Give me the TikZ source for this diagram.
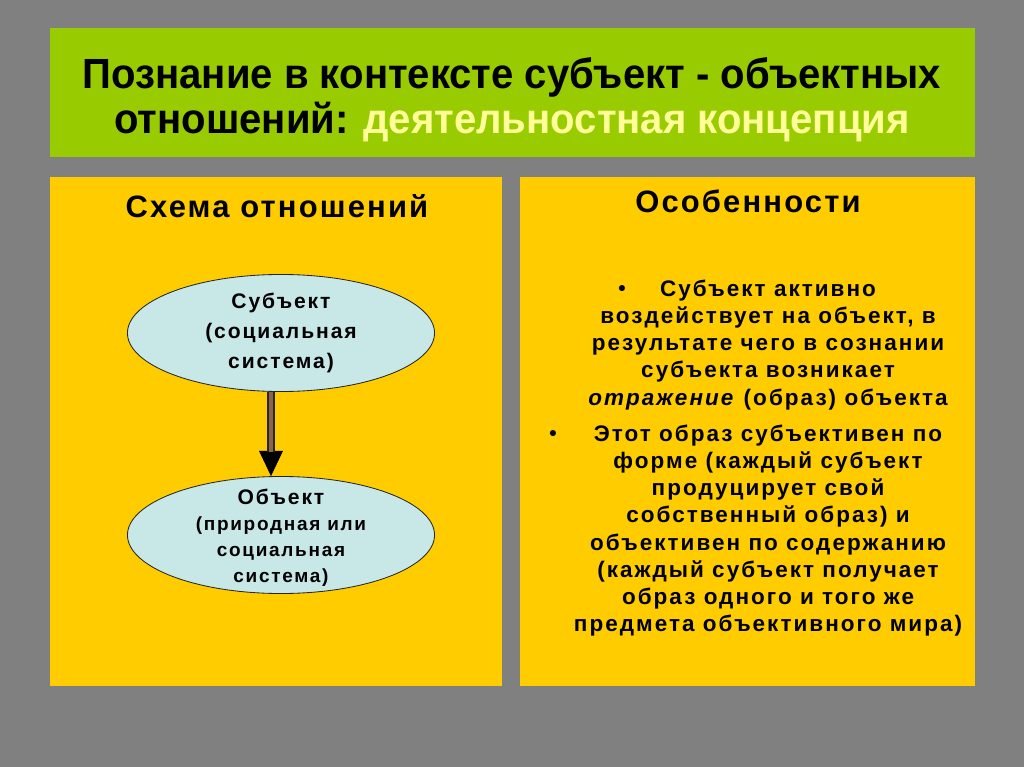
\documentclass[tikz,border=0pt]{standalone}
\usepackage{fontspec}
\setmainfont{Liberation Sans}
\newfontfamily\headfont[LetterSpace=7]{Liberation Sans}
\newfontfamily\bodyfont[LetterSpace=9]{Liberation Sans}
\usetikzlibrary{shapes.geometric,arrows.meta,positioning}

\definecolor{slidegray}{RGB}{128,128,128}
\definecolor{bannergreen}{RGB}{153,204,0}
\definecolor{panelyellow}{RGB}{255,204,0}
\definecolor{paleyellow}{RGB}{255,255,153}
\definecolor{ovalblue}{RGB}{200,232,232}
\definecolor{shaftbrown}{RGB}{140,100,70}

\begin{document}
\begin{tikzpicture}[x=0.025cm, y=-0.025cm,
  panel/.style={fill=panelyellow},
  titleline/.style={font=\bfseries\fontsize{30}{32}\selectfont},
  heading/.style={font=\headfont\bfseries\fontsize{22}{24}\selectfont},
  oval/.style={ellipse, draw=black!85, fill=ovalblue, line width=0.6pt, minimum width=7.675cm, minimum height=2.925cm},
  ovaltext/.style={font=\bodyfont\bfseries\fontsize{15}{21.3}\selectfont, align=center},
  bullettext/.style={font=\bodyfont\bfseries\fontsize{16}{19.3}\selectfont, align=center, anchor=north},
  dot/.style={font=\bfseries\fontsize{15}{19}\selectfont, anchor=base}]

% background and panels
\fill[slidegray] (0,0) rectangle (1024,767);
\fill[bannergreen] (50,28) rectangle (975,157);
\fill[panel] (50,177) rectangle (502,686);
\fill[panel] (520,177) rectangle (975,686);

% title
\node[titleline] (title1) at (512,77) {\scalebox{0.95}[1]{Познание в контексте субъект - объектных}};
\node[titleline] (title2) at (512,122) {\scalebox{0.95}[1]{отношений: \textcolor{paleyellow}{деятельностная концепция}}};

% left panel
\node[heading] (schema) at (277,206) {Схема отношений};
\node[oval] (subj) at (281,333) {};
\node[ovaltext] (subjtext) at (subj.center) {Субъект\\(социальная\\система)};
\node[oval] (obj) at (281,535) {};
\node[ovaltext, font=\bodyfont\bfseries\fontsize{13.5}{18.4}\selectfont] (objtext) at ([yshift=-0.07cm]obj.center) {{\fontsize{15}{18.4}\selectfont Объект}\\(природная или\\социальная\\система)};
\draw[-{Triangle[length=18pt,width=17pt]}, line width=0.5pt] ([xshift=-0.25cm]subj.south) -- ([xshift=-0.25cm]obj.north);
\draw[draw=black!85, double=shaftbrown, double distance=3pt, line width=1.4pt, shorten >=17pt] ([xshift=-0.25cm]subj.south) -- ([xshift=-0.25cm]obj.north);

% right panel
\node[heading] (features) at (748,201) {Особенности};
\node[bullettext] (item1) at (768,275) {Субъект активно\\воздействует на объект, в\\результате чего в сознании\\субъекта возникает\\\textit{отражение} (образ) объекта};
\node[bullettext] (item2) at (768,420) {Этот образ субъективен по\\форме (каждый субъект\\продуцирует свой\\собственный образ) и\\объективен по содержанию\\(каждый субъект получает\\образ одного и того же\\предмета объективного мира)};
\node[dot] (dot1) at (622,295) {•};
\node[dot] (dot2) at (553,440) {•};
\end{tikzpicture}
\end{document}
